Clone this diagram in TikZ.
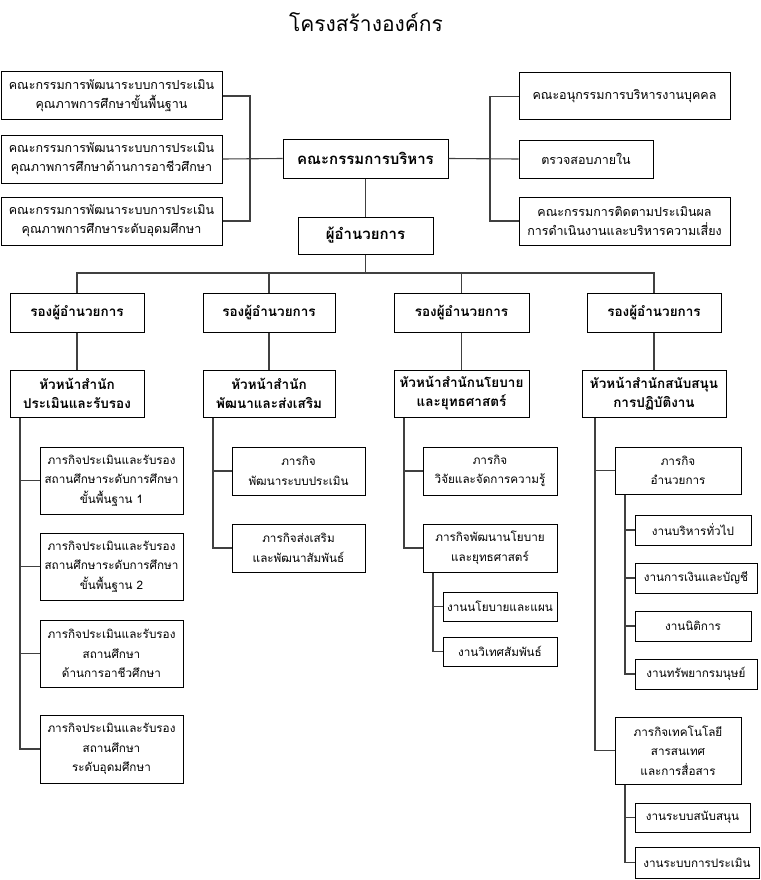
\documentclass[tikz,border=0pt]{standalone}
\usepackage{fontspec}
\newfontfamily\thai[Script=Thai]{Loma}
\definecolor{lnc}{HTML}{404040}
\tikzset{
  boxbase/.style={draw=black, line width=1pt, fill=white, align=center, inner sep=1pt},
  topbox/.style={boxbase, font=\thai\fontsize{12.5}{19}\selectfont},
  bigbox/.style={boxbase, font=\thai\bfseries\fontsize{15}{20}\selectfont},
  headbox/.style={boxbase, font=\thai\bfseries\fontsize{13.5}{19}\selectfont},
  subbox/.style={boxbase, font=\thai\fontsize{11.7}{19.5}\selectfont},
  conn/.style={draw=lnc, line width=1.1pt}
}
\newcommand\bx[7]{\node[#6, minimum width={(#4-#2)*1pt}, minimum height={(#5-#3)*1pt}] (#1) at ({(#2+#4)/2},{(#3+#5)/2}) {#7};}
\begin{document}
\begin{tikzpicture}[x=1pt,y=-1pt]
\useasboundingbox[fill=white] (0,0) rectangle (760,880);
\node[font=\thai\fontsize{21}{25}\selectfont] (title) at (366,22) {โครงสร้างองค์กร};
% top level
\bx{L1}{1}{72}{222}{120}{topbox}{คณะกรรมการพัฒนาระบบการประเมิน\\คุณภาพการศึกษาขั้นพื้นฐาน}
\bx{L2}{1}{135}{222}{183}{topbox}{คณะกรรมการพัฒนาระบบการประเมิน\\คุณภาพการศึกษาด้านการอาชีวศึกษา}
\bx{L3}{1}{197}{222}{245}{topbox}{คณะกรรมการพัฒนาระบบการประเมิน\\คุณภาพการศึกษาระดับอุดมศึกษา}
\bx{B}{283}{139}{448}{178}{bigbox}{คณะกรรมการบริหาร}
\bx{D}{298}{217}{433}{254}{bigbox}{ผู้อำนวยการ}
\bx{R1}{519}{73}{730}{120}{topbox}{คณะอนุกรรมการบริหารงานบุคคล}
\bx{R2}{519}{140}{653}{178}{topbox}{ตรวจสอบภายใน}
\bx{R3}{519}{197}{730}{245}{topbox}{คณะกรรมการติดตามประเมินผล\\การดำเนินงานและบริหารความเสี่ยง}
% deputies
\bx{V1}{10}{293}{144}{332}{headbox}{รองผู้อำนวยการ}
\bx{V2}{203}{293}{335}{332}{headbox}{รองผู้อำนวยการ}
\bx{V3}{394}{293}{529}{332}{headbox}{รองผู้อำนวยการ}
\bx{V4}{587}{293}{721}{332}{headbox}{รองผู้อำนวยการ}
% heads
\bx{H1}{10}{370}{144}{417}{headbox}{หัวหน้าสำนัก\\ประเมินและรับรอง}
\bx{H2}{203}{370}{335}{417}{headbox}{หัวหน้าสำนัก\\พัฒนาและส่งเสริม}
\bx{H3}{394}{370}{529}{417}{headbox}{หัวหน้าสำนักนโยบาย\\และยุทธศาสตร์}
\bx{H4}{582}{370}{726}{417}{headbox}{หัวหน้าสำนักสนับสนุน\\การปฏิบัติงาน}
% column 1
\bx{C1a}{40}{447}{183}{514}{subbox}{ภารกิจประเมินและรับรอง\\สถานศึกษาระดับการศึกษา\\ขั้นพื้นฐาน 1}
\bx{C1b}{40}{533}{183}{600}{subbox}{ภารกิจประเมินและรับรอง\\สถานศึกษาระดับการศึกษา\\ขั้นพื้นฐาน 2}
\bx{C1c}{40}{620}{183}{687}{subbox}{ภารกิจประเมินและรับรอง\\สถานศึกษา\\ด้านการอาชีวศึกษา}
\bx{C1d}{40}{715}{183}{783}{subbox}{ภารกิจประเมินและรับรอง\\สถานศึกษา\\ระดับอุดมศึกษา}
% column 2
\bx{C2a}{232}{447}{365}{495}{subbox}{ภารกิจ\\พัฒนาระบบประเมิน}
\bx{C2b}{232}{524}{365}{572}{subbox}{ภารกิจส่งเสริม\\และพัฒนาสัมพันธ์}
% column 3
\bx{C3a}{423}{447}{557}{495}{subbox}{ภารกิจ\\วิจัยและจัดการความรู้}
\bx{C3b}{423}{524}{557}{572}{subbox}{ภารกิจพัฒนานโยบาย\\และยุทธศาสตร์}
\bx{C3c}{443}{592}{557}{621}{subbox}{งานนโยบายและแผน}
\bx{C3d}{443}{637}{557}{666}{subbox}{งานวิเทศสัมพันธ์}
% column 4
\bx{C4a}{615}{447}{741}{494}{subbox}{ภารกิจ\\อำนวยการ}
\bx{C4b}{635}{515}{751}{545}{subbox}{งานบริหารทั่วไป}
\bx{C4c}{635}{563}{757}{593}{subbox}{งานการเงินและบัญชี}
\bx{C4d}{635}{611}{751}{641}{subbox}{งานนิติการ}
\bx{C4e}{635}{659}{757}{689}{subbox}{งานทรัพยากรมนุษย์}
\bx{C4f}{615}{717}{741}{784}{subbox}{ภารกิจเทคโนโลยี\\สารสนเทศ\\และการสื่อสาร}
\bx{C4g}{635}{803}{750}{832}{subbox}{งานระบบสนับสนุน}
\bx{C4h}{635}{847}{759}{878}{subbox}{งานระบบการประเมิน}
% connectors top
\coordinate (lx) at (250,0);
\coordinate (rx) at (490,0);
\coordinate (bus) at (0,273);
\draw[conn] (L1.east) -- (L1.east -| lx) -- (L3.east -| lx) -- (L3.east);
\draw[conn] (L2.east) -- (B.west);
\draw[conn] (R1.west) -- (R1.west -| rx) -- (R3.west -| rx) -- (R3.west);
\draw[conn] (B.east) -- (R2.west);
\draw[conn] (B.south) -- (D.north);
\draw[conn] (D.south) -- (D.south |- bus);
\draw[conn] (V1.north) -- (V1.north |- bus) -- (V4.north |- bus) -- (V4.north);
\draw[conn] (V2.north) -- (V2.north |- bus);
\draw[conn] (V3.north) -- (V3.north |- bus);
\foreach \i in {1,2,3,4} {\draw[conn] (V\i.south) -- (H\i.north);}
% column 1
\coordinate (k1) at (20,0);
\draw[conn] (H1.south -| k1) -- (C1d.west -| k1) -- (C1d.west);
\foreach \n in {C1a,C1b,C1c} {\draw[conn] (\n.west) -- (\n.west -| k1);}
% column 2
\coordinate (k2) at (213,0);
\draw[conn] (H2.south -| k2) -- (C2b.west -| k2) -- (C2b.west);
\draw[conn] (C2a.west) -- (C2a.west -| k2);
% column 3
\coordinate (k3) at (404,0);
\coordinate (k3s) at (433,0);
\draw[conn] (H3.south -| k3) -- (C3b.west -| k3) -- (C3b.west);
\draw[conn] (C3a.west) -- (C3a.west -| k3);
\draw[conn] (C3b.south -| k3s) -- (C3d.west -| k3s) -- (C3d.west);
\draw[conn] (C3c.west) -- (C3c.west -| k3s);
% column 4
\coordinate (k4) at (595,0);
\coordinate (k4s) at (625,0);
\draw[conn] (H4.south -| k4) -- (C4f.west -| k4) -- (C4f.west);
\draw[conn] (C4a.west) -- (C4a.west -| k4);
\draw[conn] (C4a.south -| k4s) -- (C4e.west -| k4s) -- (C4e.west);
\foreach \n in {C4b,C4c,C4d} {\draw[conn] (\n.west) -- (\n.west -| k4s);}
\draw[conn] (C4f.south -| k4s) -- (C4h.west -| k4s) -- (C4h.west);
\draw[conn] (C4g.west) -- (C4g.west -| k4s);
\end{tikzpicture}
\end{document}
